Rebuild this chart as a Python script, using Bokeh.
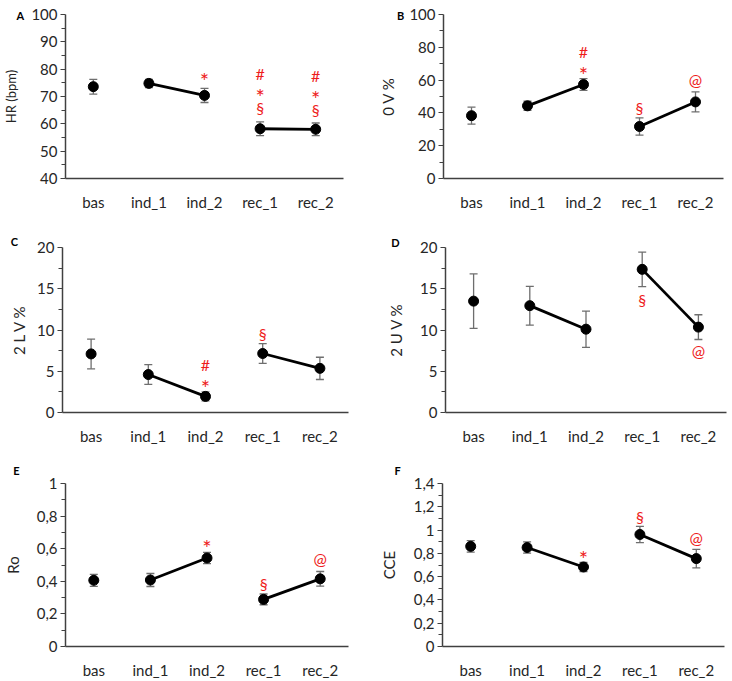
from bokeh.plotting import figure
from bokeh.models import (FactorRange, Range1d, FixedTicker, CustomJSTickFormatter,
                          Whisker, TeeHead, ColumnDataSource)
from bokeh.layouts import column, row
from bokeh.embed import file_html
from bokeh.resources import INLINE
from bokeh.core.properties import value

# ---------------- data ----------------
categories = ["bas", "ind_1", "ind_2", "rec_1", "rec_2"]
linked_pairs = [("ind_1", "ind_2"), ("rec_1", "rec_2")]

hr_mean = [73.6, 74.8, 70.4, 58.2, 58.0]
hr_err = [2.7, 1.5, 2.6, 2.5, 2.3]

v0_mean = [38.3, 44.3, 57.3, 31.7, 46.7]
v0_err = [5.2, 2.8, 3.6, 5.3, 6.1]

l2v_mean = [7.1, 4.6, 1.95, 7.15, 5.35]
l2v_err = [1.8, 1.2, 0.55, 1.2, 1.35]

u2v_mean = [13.5, 12.95, 10.1, 17.35, 10.35]
u2v_err = [3.3, 2.35, 2.2, 2.1, 1.5]

ro_mean = [0.406, 0.408, 0.543, 0.289, 0.415]
ro_err = [0.037, 0.04, 0.034, 0.033, 0.045]

cce_mean = [0.86, 0.85, 0.683, 0.962, 0.755]
cce_err = [0.05, 0.048, 0.04, 0.07, 0.08]

ticks_hr = [40, 50, 60, 70, 80, 90, 100]
minor_hr = [45, 55, 65, 75, 85, 95]
ticks_v0 = [0, 20, 40, 60, 80, 100]
minor_v0 = [10, 30, 50, 70, 90]
ticks_pct20 = [0, 5, 10, 15, 20]
minor_pct20 = [2.5, 7.5, 12.5, 17.5]
ticks_ro = [0, 0.2, 0.4, 0.6, 0.8, 1.0]
minor_ro = [0.1, 0.3, 0.5, 0.7, 0.9]
ticks_cce = [0, 0.2, 0.4, 0.6, 0.8, 1.0, 1.2, 1.4]
minor_cce = [0.1, 0.3, 0.5, 0.7, 0.9, 1.1, 1.3]

# significance marks: category -> symbols, nearest to the error bar first
sig_hr = [("ind_2", "*"), ("rec_1", "§*#"), ("rec_2", "§*#")]
sig_v0 = [("ind_2", "*#"), ("rec_1", "§"), ("rec_2", "@")]
sig_l2v = [("ind_2", "*#"), ("rec_1", "§")]
sig_u2v = [("rec_1", "§"), ("rec_2", "@")]
sig_ro = [("ind_2", "*"), ("rec_1", "§"), ("rec_2", "@")]
sig_cce = [("ind_2", "*"), ("rec_1", "§"), ("rec_2", "@")]

# ---------------- style ----------------
FONT = "Lato"
AXIS_COL = "#404040"
TEXT_COL = "#262626"
ERR_COL = "#6e6e6e"
SIG_COL = "#ee1c1c"
SPACING = 17
GLYPH_SHIFT = {"*": 6, "#": 0, "§": 0, "@": -2}
GLYPH_SIZE = {"*": "22px", "#": "16px", "§": "16px", "@": "16px"}
PW, PH = 366, 227

comma_fmt = CustomJSTickFormatter(code="""
    var s = (Math.round(tick * 10) / 10).toString();
    return s.replace('.', ',');
""")


def make_panel(letter, ylabel, ylabel_size, mean, err, yr, ticks, minor, sig, side, geo,
               comma=False):
    bl, br, bt, bb, lab_standoff, lx, ly, gap = geo
    p = figure(width=PW, height=PH,
               x_range=FactorRange(*categories), y_range=Range1d(*yr),
               output_backend="svg", toolbar_location=None,
               min_border_left=bl, min_border_right=br,
               min_border_top=bt, min_border_bottom=bb)
    p.xgrid.visible = False
    p.ygrid.visible = False
    p.outline_line_color = None
    p.background_fill_color = "white"
    p.border_fill_color = "white"

    # axes
    p.xaxis.axis_line_color = AXIS_COL
    p.xaxis.axis_line_width = 1.5
    p.xaxis.major_tick_line_color = None
    p.xaxis.minor_tick_line_color = None
    p.xaxis.major_tick_out = 0
    p.xaxis.major_tick_in = 0
    p.xaxis.major_label_standoff = 14
    p.xaxis.major_label_text_font = FONT
    p.xaxis.major_label_text_font_size = "15px"
    p.xaxis.major_label_text_color = TEXT_COL

    ya = p.yaxis[0]
    ya.ticker = FixedTicker(ticks=ticks, minor_ticks=minor)
    if comma:
        ya.formatter = comma_fmt
    ya.axis_line_color = AXIS_COL
    ya.axis_line_width = 1.5
    ya.major_tick_line_color = AXIS_COL
    ya.minor_tick_line_color = AXIS_COL
    ya.major_tick_line_width = 1.2
    ya.minor_tick_line_width = 1.2
    ya.major_tick_out = 5
    ya.major_tick_in = 0
    ya.minor_tick_out = 4
    ya.minor_tick_in = 0
    ya.major_label_standoff = 3
    ya.major_label_text_font = FONT
    ya.major_label_text_font_size = "15px"
    ya.major_label_text_color = TEXT_COL
    ya.axis_label = ylabel
    ya.axis_label_text_font = FONT
    ya.axis_label_text_font_size = ylabel_size
    ya.axis_label_text_font_style = "normal"
    ya.axis_label_text_color = TEXT_COL
    ya.axis_label_standoff = lab_standoff

    upper = [m + e for m, e in zip(mean, err)]
    lower = [m - e for m, e in zip(mean, err)]
    src = ColumnDataSource(dict(x=categories, y=mean, upper=upper, lower=lower))

    w = Whisker(source=src, base="x", upper="upper", lower="lower",
                line_color=ERR_COL, line_width=1.3, level="underlay",
                upper_head=TeeHead(size=8, line_color=ERR_COL, line_width=1.3),
                lower_head=TeeHead(size=8, line_color=ERR_COL, line_width=1.3))
    p.add_layout(w)

    for a, b in linked_pairs:
        i, j = categories.index(a), categories.index(b)
        p.line(x=[a, b], y=[mean[i], mean[j]], line_color="black", line_width=2.8)

    p.scatter(x="x", y="y", source=src, size=10, fill_color="black", line_color="black")

    xs, ys, txt, offs, sizes = [], [], [], [], []
    for cat, syms in sig:
        i = categories.index(cat)
        for k, s in enumerate(syms):
            d = gap + k * SPACING
            if side == "above":
                ys.append(upper[i]); offs.append(-d + GLYPH_SHIFT[s])
            else:
                ys.append(lower[i]); offs.append(d + GLYPH_SHIFT[s])
            xs.append(cat); txt.append(s); sizes.append(GLYPH_SIZE[s])
    ssrc = ColumnDataSource(dict(x=xs, y=ys, text=txt, off=offs, fs=sizes))
    p.text(x="x", y="y", text="text", y_offset="off", source=ssrc,
           text_align="center", text_baseline="middle",
           text_font=value(FONT), text_font_size="fs", text_color=SIG_COL)

    # panel letter, placed relative to the first category at the top of the range
    frame_w = PW - bl - br
    bas_x = bl + frame_w / (2 * len(categories))
    lsrc = ColumnDataSource(dict(x=[categories[0]], y=[yr[1]], t=[letter]))
    p.text(x="x", y="y", text="t", source=lsrc, x_offset=lx - bas_x, y_offset=ly - bt,
           text_align="center", text_baseline="middle", text_font=value(FONT),
           text_font_size="11px", text_font_style="bold", text_color="black",
           level="overlay")
    return p


# geometry: border left, right, top, bottom, axis-label standoff,
#           letter x, letter y (canvas px), gap of first significance mark
pA = make_panel("A", "HR (bpm)", "13px", hr_mean, hr_err, (40, 100), ticks_hr, minor_hr,
                sig_hr, "above", (62, 23, 13, 49, 9, 17, 14, 14))
pB = make_panel("B", "0 V %", "15px", v0_mean, v0_err, (0, 100), ticks_v0, minor_v0,
                sig_v0, "above", (77, 9, 14, 47, 9, 34, 15, 10))
pC = make_panel("C", "2 L V %", "15px", l2v_mean, l2v_err, (0, 20), ticks_pct20, minor_pct20,
                sig_l2v, "above", (62, 18, 20, 39, 6, 14, 14, 10))
pD = make_panel("D", "2 U V %", "15px", u2v_mean, u2v_err, (0, 20), ticks_pct20, minor_pct20,
                sig_u2v, "below", (79, 6, 19, 42, 12, 29, 14, 13))
pE = make_panel("E", "Ro", "15px", ro_mean, ro_err, (0, 1), ticks_ro, minor_ro,
                sig_ro, "above", (65, 18, 29, 32, 12, 16, 16, 11), comma=True)
pF = make_panel("F", "CCE", "15px", cce_mean, cce_err, (0, 1.4), ticks_cce, minor_cce,
                sig_cce, "above", (76, 8, 28, 32, 13, 31, 15, 10), comma=True)

layout = column(row(pA, pB), row(pC, pD), row(pE, pF))

with open("out.html", "w") as f:
    f.write(file_html(layout, INLINE))
